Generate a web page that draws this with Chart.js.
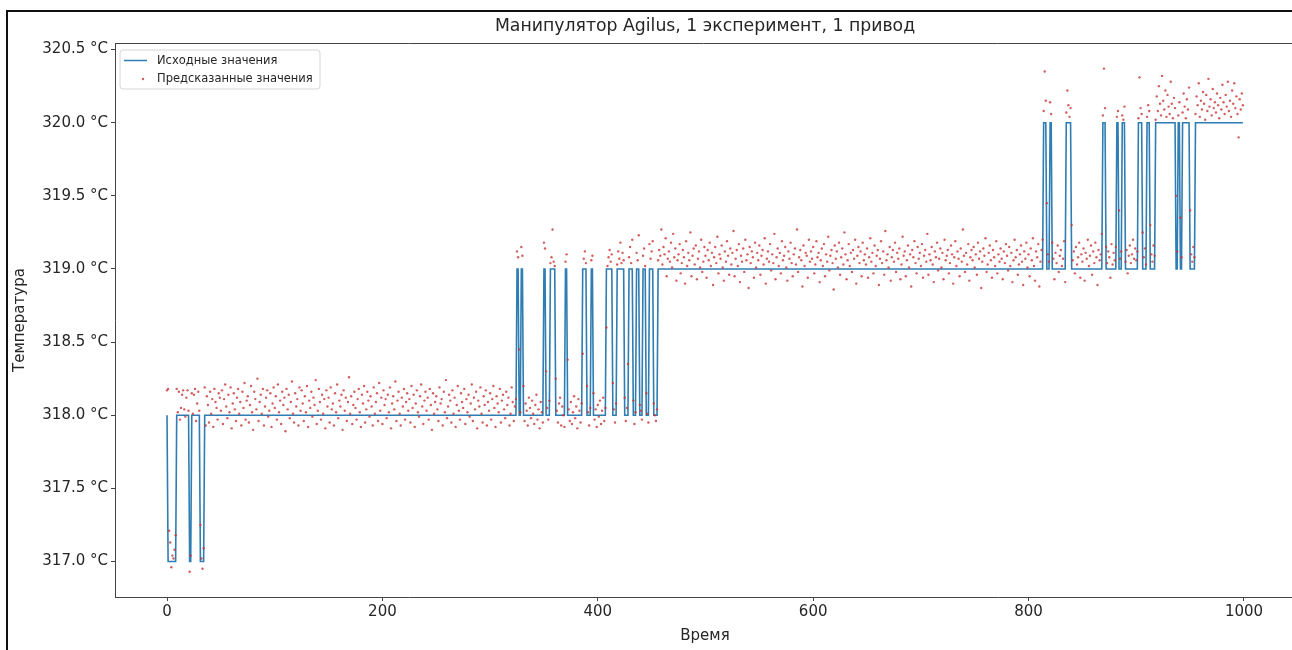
<!DOCTYPE html>
<html lang="ru">
<head>
    <meta charset="UTF-8">
    <title>Манипулятор Agilus, 1 эксперимент, 1 привод</title>
    <script src="https://cdn.jsdelivr.net/npm/chart.js"></script>
    <style>
        html, body {
            margin: 0;
            padding: 0;
            background: #fff;
            overflow: hidden;
        }
        /* a few px wider than the window: the right spine is cut off in the original */
        #wrap {
            position: relative;
            width: 1296px;
            height: 650px;
        }
    </style>
</head>
<body>
    <div id="wrap"><canvas id="chart"></canvas></div>

    <script>
        // Original (measured) values as runs: [first index, last index, value]
        const originalRuns = [
            [0, 0, 318], [1, 8, 317], [9, 20, 318], [21, 22, 317], [23, 30, 318], [31, 34, 317],
            [35, 324, 318], [325, 326, 319], [327, 328, 318], [329, 330, 319], [331, 349, 318],
            [350, 351, 319], [352, 355, 318], [356, 360, 319], [361, 369, 318], [370, 371, 319],
            [372, 385, 318], [386, 389, 319], [390, 393, 318], [394, 395, 319], [396, 407, 318],
            [408, 413, 319], [414, 417, 318], [418, 424, 319], [425, 428, 318], [429, 432, 319],
            [433, 435, 318], [436, 438, 319], [439, 441, 318], [442, 444, 319], [445, 447, 318],
            [448, 451, 319], [452, 455, 318], [456, 813, 319], [814, 816, 320], [817, 819, 319],
            [820, 821, 320], [822, 834, 319], [835, 839, 320], [840, 868, 319], [869, 871, 320],
            [872, 881, 319], [882, 883, 320], [884, 886, 319], [887, 889, 320], [890, 901, 319],
            [902, 905, 320], [906, 909, 319], [910, 912, 320], [913, 917, 319], [918, 936, 320],
            [937, 938, 319], [939, 940, 320], [941, 942, 319], [943, 949, 320], [950, 954, 319],
            [955, 999, 320]
        ];

        // Predicted values, one per time step (0..999)
        const predicted = [
            318.17, 318.18, 317.21, 317.13, 316.96, 317.04, 317.02, 317.08, 317.18, 318.18, 318.02, 318.16, 317.97, 318.05, 318.14, 318.17, 318.04, 317.99, 318.12, 318.17, 318.03, 316.93, 317.04, 318.15, 318.01,
            318.14, 318.18, 317.96, 318.08, 318.16, 318.03, 317.25, 317.02, 316.95, 317.09, 318.19, 317.93, 318.13, 318.07, 317.95, 318.16, 318.01, 318.11, 317.92, 318.18, 318.09, 318.05, 317.97, 318.15, 318.12,
            318.03, 318.17, 317.94, 318.11, 318.21, 318.06, 317.98, 318.14, 318.02, 318.19, 317.91, 318.08, 318.15, 318.04, 317.96, 318.12, 318.18, 318.01, 318.09, 317.93, 318.16, 318.05, 318.22, 317.97, 318.10,
            318.13, 317.95, 318.07, 318.20, 318.02, 317.90, 318.16, 318.11, 318.04, 318.25, 317.96, 318.09, 318.14, 318.01, 318.18, 317.93, 318.06, 318.12, 318.17, 317.99, 318.03, 318.15, 317.92, 318.08, 318.19,
            318.05, 318.13, 317.97, 318.21, 318.02, 318.10, 317.94, 318.16, 318.07, 318.12, 317.89, 318.18, 318.04, 318.14, 317.98, 318.09, 318.23, 318.01, 317.95, 318.15, 318.06, 318.11, 317.93, 318.19, 318.03,
            318.17, 318.08, 317.96, 318.13, 318.02, 318.20, 317.92, 318.10, 318.05, 318.16, 317.99, 318.12, 318.07, 318.24, 317.94, 318.03, 318.18, 318.09, 317.97, 318.14, 318.01, 318.11, 317.91, 318.17, 318.06,
            318.12, 317.95, 318.19, 318.04, 318.08, 317.93, 318.15, 318.02, 318.21, 317.98, 318.10, 318.06, 318.14, 317.90, 318.17, 318.03, 318.12, 317.96, 318.09, 318.26, 318.01, 318.13, 317.94, 318.07, 318.16,
            318.05, 317.97, 318.11, 318.18, 318.02, 317.92, 318.14, 318.08, 318.20, 317.95, 318.04, 318.16, 318.10, 317.99, 318.13, 318.06, 317.93, 318.19, 318.01, 318.09, 318.15, 317.96, 318.22, 318.03, 318.12,
            317.94, 318.17, 318.07, 318.11, 317.98, 318.14, 318.02, 318.19, 317.91, 318.08, 318.13, 318.04, 318.23, 317.96, 318.10, 318.16, 318.01, 317.93, 318.12, 318.06, 318.18, 317.97, 318.09, 318.15, 318.03,
            318.11, 317.95, 318.20, 318.05, 318.14, 317.92, 318.08, 318.17, 318.02, 317.99, 318.13, 318.21, 318.06, 317.94, 318.10, 318.16, 318.03, 318.12, 317.97, 318.18, 318.07, 317.90, 318.15, 318.01, 318.09,
            318.13, 318.04, 317.96, 318.19, 318.08, 318.11, 317.93, 318.16, 318.02, 318.24, 317.98, 318.06, 318.14, 318.10, 317.95, 318.17, 318.01, 318.12, 317.92, 318.07, 318.20, 318.03, 317.97, 318.15, 318.09,
            318.05, 318.18, 317.94, 318.11, 318.02, 318.14, 317.99, 318.08, 318.21, 317.96, 318.12, 318.04, 318.16, 317.91, 318.10, 318.06, 318.19, 318.01, 317.95, 318.13, 318.07, 318.17, 317.93, 318.09, 318.03,
            318.15, 317.97, 318.11, 318.20, 318.05, 317.92, 318.13, 318.08, 318.02, 318.18, 317.95, 318.10, 318.14, 318.04, 317.98, 318.16, 318.07, 318.12, 317.93, 318.01, 318.19, 318.09, 317.96, 318.06, 318.11,
            319.12, 319.08, 318.45, 318.02, 319.15, 319.09, 318.20, 317.96, 318.08, 318.03, 317.93, 318.12, 318.05, 317.98, 318.10, 318.01, 317.94, 318.07, 318.14, 317.97, 318.04, 317.91, 318.09, 318.02, 317.95,
            319.18, 319.14, 318.30, 318.05, 317.97, 318.10, 319.04, 319.08, 319.27, 319.05, 319.02, 318.25, 318.03, 317.95, 318.08, 318.12, 317.93, 318.06, 318.00, 317.92, 319.05, 319.10, 318.38, 318.04, 317.96,
            318.09, 317.94, 318.02, 318.13, 317.98, 318.06, 317.91, 318.11, 318.03, 317.95, 318.08, 318.42, 319.07, 319.12, 319.04, 318.20, 318.02, 317.93, 318.05, 319.06, 319.09, 318.15, 317.97, 318.04, 317.92,
            318.07, 317.99, 318.10, 317.94, 318.03, 318.12, 317.96, 318.05, 318.60, 319.02, 319.08, 319.13, 319.05, 319.10, 318.22, 318.04, 317.95, 318.08, 319.03, 319.12, 319.07, 319.18, 319.04, 319.11, 319.06,
            318.12, 317.96, 318.05, 318.35, 319.08, 319.15, 319.04, 319.20, 318.10, 317.94, 318.02, 319.11, 319.06, 319.23, 318.07, 318.03, 317.97, 319.09, 319.14, 319.02, 318.15, 318.01, 317.95, 319.17, 319.07,
            319.12, 319.19, 318.08, 318.00, 317.96, 318.04, 319.06, 319.13, 319.09, 319.27, 319.03, 319.15, 319.10, 319.21, 318.95, 319.07, 319.12, 319.05, 319.18, 319.01, 319.24, 319.08, 319.14, 318.92, 319.06,
            319.10, 319.17, 318.97, 319.04, 319.13, 319.08, 318.90, 319.19, 319.02, 319.11, 319.06, 319.25, 318.95, 319.09, 319.14, 319.03, 319.16, 318.93, 319.07, 319.12, 319.01, 319.20, 318.98, 319.05, 319.15,
            319.09, 318.94, 319.13, 319.06, 319.18, 319.02, 319.11, 318.89, 319.08, 319.15, 319.04, 319.22, 318.97, 319.10, 319.07, 319.16, 319.01, 318.92, 319.12, 319.05, 319.19, 319.09, 318.96, 319.14, 319.03,
            319.11, 319.26, 318.95, 319.07, 319.13, 319.02, 319.17, 318.91, 319.09, 319.05, 319.14, 318.98, 319.20, 319.06, 319.10, 318.87, 319.15, 319.04, 319.12, 319.08, 318.94, 319.18, 319.01, 319.11, 319.06,
            319.16, 318.96, 319.09, 319.13, 319.03, 319.21, 318.90, 319.07, 319.12, 319.05, 319.17, 318.99, 319.10, 319.04, 319.24, 318.93, 319.08, 319.14, 319.02, 319.11, 318.97, 319.19, 319.06, 319.09, 319.15,
            319.01, 318.92, 319.12, 319.07, 319.18, 319.04, 318.95, 319.10, 319.14, 319.03, 319.27, 318.98, 319.08, 319.13, 319.06, 318.88, 319.16, 319.02, 319.11, 319.09, 318.94, 319.20, 319.05, 319.12, 319.07,
            319.15, 318.97, 319.03, 319.19, 319.08, 319.11, 318.91, 319.06, 319.14, 319.02, 319.17, 318.95, 319.10, 319.05, 319.22, 318.99, 319.09, 319.13, 319.04, 318.86, 319.16, 319.07, 319.12, 319.01, 319.18,
            318.96, 319.08, 319.14, 319.03, 319.25, 319.10, 318.93, 319.06, 319.17, 319.02, 319.11, 318.98, 319.13, 319.07, 319.20, 318.90, 319.09, 319.15, 319.04, 319.12, 318.95, 319.18, 319.06, 319.10, 319.03,
            319.14, 318.94, 319.08, 319.21, 319.05, 319.11, 318.97, 319.16, 319.02, 319.09, 319.13, 318.89, 319.07, 319.19, 319.04, 319.12, 318.96, 319.26, 319.06, 319.10, 319.01, 319.15, 318.92, 319.08, 319.13,
            319.05, 319.18, 318.98, 319.11, 319.07, 319.14, 318.93, 319.03, 319.22, 319.09, 319.12, 318.95, 319.06, 319.16, 319.01, 319.10, 318.88, 319.13, 319.08, 319.19, 319.04, 318.97, 319.15, 319.07, 319.11,
            319.02, 319.17, 318.94, 319.09, 319.13, 319.05, 319.24, 318.96, 319.10, 319.06, 319.15, 319.03, 318.91, 319.12, 319.08, 319.18, 318.99, 319.07, 319.14, 319.01, 319.11, 318.93, 319.20, 319.06, 319.09,
            319.13, 318.97, 319.04, 319.16, 319.10, 318.90, 319.08, 319.19, 319.02, 319.12, 319.07, 318.95, 319.14, 319.05, 319.27, 319.09, 318.98, 319.11, 319.03, 319.17, 318.92, 319.08, 319.13, 319.06, 319.15,
            319.01, 319.10, 318.96, 319.18, 319.07, 319.12, 318.87, 319.05, 319.14, 319.09, 319.21, 318.98, 319.03, 319.11, 319.16, 319.06, 318.94, 319.13, 319.08, 319.02, 319.19, 318.97, 319.10, 319.05, 319.14,
            319.07, 318.93, 319.12, 319.04, 319.17, 319.09, 318.99, 319.15, 319.02, 319.11, 318.91, 319.06, 319.20, 319.08, 319.13, 318.96, 319.03, 319.10, 319.16, 319.05, 318.89, 319.12, 319.07, 319.18, 319.01,
            319.10, 318.95, 319.14, 319.06, 319.21, 319.02, 318.92, 319.12, 319.08, 319.17, 318.88, 319.05, 319.13, 319.20, 320.08, 320.35, 320.15, 319.45, 319.10, 319.05, 320.14, 320.06, 319.18, 319.07, 318.93,
            319.11, 319.04, 319.16, 318.98, 319.09, 319.13, 319.02, 319.07, 319.19, 318.91, 320.07, 320.22, 320.12, 320.04, 320.10, 319.30, 319.06, 319.12, 318.97, 319.15, 319.03, 319.08, 319.18, 318.94, 319.10,
            319.05, 319.14, 318.92, 319.11, 319.07, 319.20, 319.02, 319.09, 319.16, 318.96, 319.12, 319.04, 319.18, 319.08, 318.89, 319.13, 319.06, 319.10, 319.24, 320.05, 320.37, 320.10, 319.15, 319.04, 319.12,
            319.08, 318.94, 319.17, 319.03, 319.11, 319.06, 319.15, 320.04, 320.08, 319.40, 319.07, 319.12, 320.05, 320.02, 320.11, 319.05, 319.13, 318.97, 319.09, 319.16, 319.04, 319.10, 319.20, 319.07, 319.14,
            319.06, 319.12, 320.03, 320.31, 320.10, 320.06, 319.25, 319.08, 319.14, 319.03, 320.04, 320.12, 320.08, 319.30, 319.10, 319.05, 319.16, 319.09, 320.02, 320.18, 320.08, 320.25, 320.13, 320.05, 320.32,
            320.15, 320.09, 320.22, 320.04, 320.19, 320.11, 320.06, 320.28, 320.13, 320.03, 320.17, 320.10, 319.50, 319.12, 320.05, 320.14, 319.35, 319.08, 320.07, 320.20, 320.11, 320.03, 320.16, 320.09, 320.24,
            319.40, 319.10, 319.05, 319.15, 319.08, 320.06, 320.18, 320.12, 320.27, 320.04, 320.15, 320.09, 320.21, 320.13, 320.02, 320.19, 320.08, 320.30, 320.11, 320.16, 320.05, 320.23, 320.10, 320.14, 320.07,
            320.20, 320.12, 320.03, 320.17, 320.09, 320.26, 320.14, 320.06, 320.19, 320.11, 320.28, 320.08, 320.15, 320.04, 320.22, 320.13, 320.27, 320.10, 320.18, 320.06, 319.90, 320.16, 320.09, 320.20, 320.12
        ];

        const xTicks = [0, 200, 400, 600, 800, 1000];
        const yTicks = [317.0, 317.5, 318.0, 318.5, 319.0, 319.5, 320.0, 320.5];

        const chartTitle = 'Манипулятор Agilus, 1 эксперимент, 1 привод';
        const xTitle = 'Время';
        const yTitle = 'Температура';
        const legendLabels = ['Исходные значения', 'Предсказанные значения'];

        const lineColor = '#2f7db2';
        const dotColor = 'rgba(200, 52, 52, 0.8)';
        const axisColor = '#444';
        const textColor = '#262626';
        const fontFamily = '"DejaVu Sans", Verdana, sans-serif';

        // Each run becomes two points (start and end), so the line steps between levels
        const linePoints = [];
        originalRuns.forEach(([a, b, v]) => {
            linePoints.push({ x: a, y: v });
            linePoints.push({ x: b, y: v });
        });
        const dotPoints = predicted.map((v, i) => ({ x: i, y: v }));

        // Frame, top spine, titles and the matplotlib-like legend box
        const decorations = {
            id: 'decorations',
            beforeDraw(chart) {
                const ctx = chart.ctx;
                ctx.save();
                ctx.fillStyle = '#fff';
                ctx.fillRect(0, 0, chart.width, chart.height);
                ctx.strokeStyle = '#111';
                ctx.lineWidth = 2;
                ctx.beginPath();
                ctx.moveTo(7, chart.height);
                ctx.lineTo(7, 11);
                ctx.lineTo(chart.width, 11);
                ctx.stroke();
                ctx.restore();
            },
            afterDraw(chart) {
                const ctx = chart.ctx;
                const area = chart.chartArea;
                ctx.save();

                // top spine
                ctx.strokeStyle = axisColor;
                ctx.lineWidth = 1;
                ctx.beginPath();
                ctx.moveTo(area.left, area.top + 0.5);
                ctx.lineTo(area.right, area.top + 0.5);
                ctx.stroke();

                ctx.fillStyle = textColor;
                ctx.textAlign = 'center';
                ctx.textBaseline = 'middle';

                ctx.font = '17.3px ' + fontFamily;
                ctx.fillText(chartTitle, 705, 27);

                ctx.font = '15px ' + fontFamily;
                ctx.fillText(xTitle, 705, 636);

                ctx.save();
                ctx.translate(20, 320);
                ctx.rotate(-Math.PI / 2);
                ctx.fillText(yTitle, 0, 0);
                ctx.restore();

                // legend
                const lx = 120, ly = 50, lw = 200, lh = 39, r = 3;
                ctx.beginPath();
                ctx.moveTo(lx + r, ly);
                ctx.lineTo(lx + lw - r, ly);
                ctx.quadraticCurveTo(lx + lw, ly, lx + lw, ly + r);
                ctx.lineTo(lx + lw, ly + lh - r);
                ctx.quadraticCurveTo(lx + lw, ly + lh, lx + lw - r, ly + lh);
                ctx.lineTo(lx + r, ly + lh);
                ctx.quadraticCurveTo(lx, ly + lh, lx, ly + lh - r);
                ctx.lineTo(lx, ly + r);
                ctx.quadraticCurveTo(lx, ly, lx + r, ly);
                ctx.closePath();
                ctx.fillStyle = 'rgba(255, 255, 255, 0.85)';
                ctx.fill();
                ctx.strokeStyle = '#d6d6d6';
                ctx.lineWidth = 1;
                ctx.stroke();

                ctx.strokeStyle = lineColor;
                ctx.lineWidth = 1.5;
                ctx.beginPath();
                ctx.moveTo(124, 60.5);
                ctx.lineTo(147, 60.5);
                ctx.stroke();

                ctx.fillStyle = dotColor;
                ctx.beginPath();
                ctx.arc(143, 79, 1.2, 0, Math.PI * 2);
                ctx.fill();

                ctx.fillStyle = textColor;
                ctx.textAlign = 'left';
                ctx.font = '11.5px ' + fontFamily;
                ctx.fillText(legendLabels[0], 157, 61);
                ctx.fillText(legendLabels[1], 157, 79);

                ctx.restore();
            }
        };

        const axisGrid = {
            drawOnChartArea: false,
            drawTicks: true,
            tickLength: 4,
            color: axisColor,
            lineWidth: 1
        };

        new Chart(document.getElementById('chart'), {
            type: 'scatter',
            data: {
                datasets: [
                    {
                        label: legendLabels[1],
                        data: dotPoints,
                        backgroundColor: dotColor,
                        borderWidth: 0,
                        pointRadius: 1.2,
                        order: 1
                    },
                    {
                        label: legendLabels[0],
                        data: linePoints,
                        showLine: true,
                        borderColor: lineColor,
                        borderWidth: 1.6,
                        pointRadius: 0,
                        tension: 0,
                        fill: false,
                        order: 2
                    }
                ]
            },
            options: {
                responsive: true,
                maintainAspectRatio: false,
                devicePixelRatio: 1,
                animation: false,
                events: [],
                layout: { padding: { top: 43, left: 0, right: 0, bottom: 0 } },
                plugins: {
                    legend: { display: false },
                    title: { display: false },
                    tooltip: { enabled: false }
                },
                scales: {
                    x: {
                        type: 'linear',
                        min: -48.3,
                        max: 1044.6,
                        afterBuildTicks: (s) => { s.ticks = xTicks.map(v => ({ value: v })); },
                        afterFit: (s) => { s.height = 53; },
                        grid: axisGrid,
                        border: { display: true, color: axisColor, width: 1 },
                        ticks: {
                            padding: 2,
                            color: textColor,
                            font: { family: fontFamily, size: 15 },
                            maxRotation: 0,
                            callback: (v) => String(v)
                        }
                    },
                    y: {
                        type: 'linear',
                        min: 316.757,
                        max: 320.545,
                        afterBuildTicks: (s) => { s.ticks = yTicks.map(v => ({ value: v })); },
                        afterFit: (s) => { s.width = 115; },
                        grid: axisGrid,
                        border: { display: true, color: axisColor, width: 1 },
                        ticks: {
                            padding: 3,
                            color: textColor,
                            font: { family: fontFamily, size: 15 },
                            callback: (v) => Number(v).toFixed(1) + ' °C'
                        }
                    }
                }
            },
            plugins: [decorations]
        });
    </script>
</body>
</html>
